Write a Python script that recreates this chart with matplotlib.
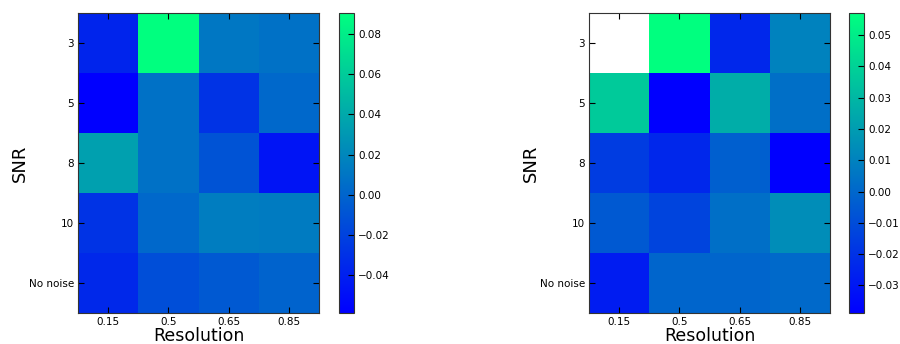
import numpy as np
import matplotlib
matplotlib.use("Agg")
import matplotlib.pyplot as plt

res_labels = ["0.15", "0.5", "0.65", "0.85"]
snr_labels = ["3", "5", "8", "10", "No noise"]

# rows = SNR, cols = resolution
left_vals = np.array([
    [-0.037, 0.0905, 0.011, 0.008],
    [-0.059, 0.008, -0.029, 0.002],
    [0.035, 0.007, -0.010, -0.047],
    [-0.029, 0.002, 0.014, 0.013],
    [-0.035, -0.013, -0.006, -0.001],
])
right_vals = np.array([
    [np.nan, 0.057, -0.024, 0.010],
    [0.037, -0.0388, 0.026, 0.003],
    [-0.016, -0.024, -0.003, -0.0388],
    [-0.005, -0.013, 0.003, 0.014],
    [-0.028, -0.001, -0.001, 0.001],
])
left_ticks = [-0.04, -0.02, 0.00, 0.02, 0.04, 0.06, 0.08]
right_ticks = [-0.03, -0.02, -0.01, 0.00, 0.01, 0.02, 0.03, 0.04, 0.05]

cmap = plt.get_cmap("winter").copy()
cmap.set_bad("white")

fig = plt.figure(figsize=(9, 3.44), dpi=100)
panels = [
    (left_vals, left_ticks, [0.0867, 0.090, 0.268, 0.872], [0.3767, 0.090, 0.0167, 0.872]),
    (right_vals, right_ticks, [0.6544, 0.090, 0.2678, 0.872], [0.9433, 0.090, 0.0167, 0.872]),
]
for vals, cticks, apos, cpos in panels:
    ax = fig.add_axes(apos)
    im = ax.imshow(np.ma.masked_invalid(vals), cmap=cmap, aspect="auto",
                   interpolation="nearest")
    ax.set_xticks(range(len(res_labels)))
    ax.set_xticklabels(res_labels, fontsize=7.5)
    ax.set_yticks(range(len(snr_labels)))
    ax.set_yticklabels(snr_labels, fontsize=7.5)
    ax.tick_params(direction="in", top=True, right=True, length=4, pad=3)
    ax.set_xlabel("Resolution", fontsize=12.5, labelpad=0)
    ax.set_ylabel("SNR", fontsize=13, labelpad=0)
    for s in ax.spines.values():
        s.set_color("#333333")
    cax = fig.add_axes(cpos)
    cb = fig.colorbar(im, cax=cax, ticks=cticks)
    cb.ax.tick_params(labelsize=7.5, direction="in", length=4, pad=3)
    cb.ax.set_yticklabels(["%.2f" % t if t >= 0 else "\u2212%.2f" % -t for t in cticks])
    cb.outline.set_edgecolor("#333333")

plt.savefig("out.png", dpi=100)
